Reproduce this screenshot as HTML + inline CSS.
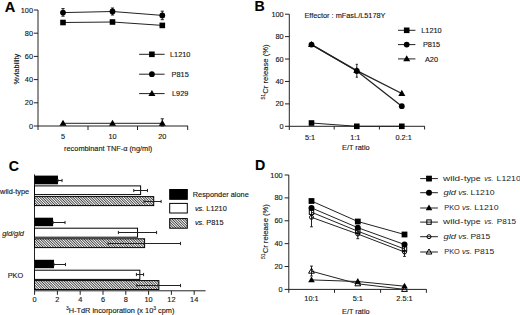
<!DOCTYPE html>
<html><head><meta charset="utf-8"><style>
html,body{margin:0;padding:0;background:#fff;width:520px;height:315px;overflow:hidden}
svg{display:block}
text{font-family:"Liberation Sans",sans-serif;stroke:#000;stroke-width:0.12px}
</style></head><body>
<svg width="520" height="315" viewBox="0 0 520 315">
<defs>
<pattern id="hatch" patternUnits="userSpaceOnUse" width="1.82" height="1.82" patternTransform="rotate(45)">
<rect width="1.82" height="1.82" fill="#fff"/>
<rect width="1.82" height="0.72" fill="#111"/>
</pattern>
</defs>
<rect width="520" height="315" fill="#fff"/>
<text x="4.7" y="12.2" text-anchor="start" font-size="14.6" font-weight="bold" fill="#000" >A</text>
<line x1="38.0" y1="10.0" x2="38.0" y2="130" stroke="#222" stroke-width="1"/>
<line x1="38.0" y1="126.0" x2="188" y2="126.0" stroke="#222" stroke-width="1"/>
<line x1="33.8" y1="126.0" x2="38.0" y2="126.0" stroke="#222" stroke-width="1"/>
<text x="33.0" y="128.6" text-anchor="end" font-size="7.35" fill="#1a1a1a" >0</text>
<line x1="33.8" y1="102.8" x2="38.0" y2="102.8" stroke="#222" stroke-width="1"/>
<text x="33.0" y="105.39999999999999" text-anchor="end" font-size="7.35" fill="#1a1a1a" >20</text>
<line x1="33.8" y1="79.6" x2="38.0" y2="79.6" stroke="#222" stroke-width="1"/>
<text x="33.0" y="82.19999999999999" text-anchor="end" font-size="7.35" fill="#1a1a1a" >40</text>
<line x1="33.8" y1="56.400000000000006" x2="38.0" y2="56.400000000000006" stroke="#222" stroke-width="1"/>
<text x="33.0" y="59.00000000000001" text-anchor="end" font-size="7.35" fill="#1a1a1a" >60</text>
<line x1="33.8" y1="33.2" x2="38.0" y2="33.2" stroke="#222" stroke-width="1"/>
<text x="33.0" y="35.800000000000004" text-anchor="end" font-size="7.35" fill="#1a1a1a" >80</text>
<line x1="33.8" y1="10.000000000000014" x2="38.0" y2="10.000000000000014" stroke="#222" stroke-width="1"/>
<text x="33.0" y="12.600000000000014" text-anchor="end" font-size="7.35" fill="#1a1a1a" >100</text>
<line x1="88" y1="126.0" x2="88" y2="130" stroke="#222" stroke-width="1"/>
<line x1="137.5" y1="126.0" x2="137.5" y2="130" stroke="#222" stroke-width="1"/>
<line x1="187.7" y1="126.0" x2="187.7" y2="130" stroke="#222" stroke-width="1"/>
<text x="63" y="138.6" text-anchor="middle" font-size="7.35" fill="#1a1a1a" >5</text>
<text x="112.5" y="138.6" text-anchor="middle" font-size="7.35" fill="#1a1a1a" >10</text>
<text x="162.3" y="138.6" text-anchor="middle" font-size="7.35" fill="#1a1a1a" >20</text>
<text x="108.2" y="150.6" text-anchor="middle" font-size="7.35" fill="#1a1a1a" >recombinant TNF-&#945; (ng/ml)</text>
<text x="0" y="0" text-anchor="middle" font-size="7.35" fill="#1a1a1a" transform="translate(18.8,69.2) rotate(-90)">%viability</text>
<polyline points="63,22.5 112.5,22.0 162.3,25.4" fill="none" stroke="#222" stroke-width="1"/>
<polyline points="63,12.6 112.5,11.5 162.3,15.4" fill="none" stroke="#222" stroke-width="1"/>
<polyline points="63,123.3 112.5,123.3 162.3,123.3" fill="none" stroke="#222" stroke-width="1"/>
<line x1="63" y1="8.6" x2="63" y2="16.2" stroke="#222" stroke-width="1"/>
<line x1="61.4" y1="8.6" x2="64.6" y2="8.6" stroke="#222" stroke-width="1"/>
<line x1="61.4" y1="16.2" x2="64.6" y2="16.2" stroke="#222" stroke-width="1"/>
<line x1="112.5" y1="8.0" x2="112.5" y2="15.0" stroke="#222" stroke-width="1"/>
<line x1="110.9" y1="8.0" x2="114.1" y2="8.0" stroke="#222" stroke-width="1"/>
<line x1="110.9" y1="15.0" x2="114.1" y2="15.0" stroke="#222" stroke-width="1"/>
<line x1="162.3" y1="11.2" x2="162.3" y2="19.7" stroke="#222" stroke-width="1"/>
<line x1="160.70000000000002" y1="11.2" x2="163.9" y2="11.2" stroke="#222" stroke-width="1"/>
<line x1="160.70000000000002" y1="19.7" x2="163.9" y2="19.7" stroke="#222" stroke-width="1"/>
<line x1="162.3" y1="118.8" x2="162.3" y2="126" stroke="#222" stroke-width="1"/>
<line x1="160.70000000000002" y1="118.8" x2="163.9" y2="118.8" stroke="#222" stroke-width="1"/>
<line x1="160.70000000000002" y1="126" x2="163.9" y2="126" stroke="#222" stroke-width="1"/>
<rect x="60.2" y="19.7" width="5.6" height="5.6" fill="#000"/>
<rect x="109.7" y="19.2" width="5.6" height="5.6" fill="#000"/>
<rect x="159.5" y="22.599999999999998" width="5.6" height="5.6" fill="#000"/>
<circle cx="63" cy="12.6" r="2.9" fill="#000"/>
<circle cx="112.5" cy="11.5" r="2.9" fill="#000"/>
<circle cx="162.3" cy="15.4" r="2.9" fill="#000"/>
<polygon points="63,119.646 66.5,125.73599999999999 59.5,125.73599999999999" fill="#000"/>
<polygon points="112.5,119.646 116.0,125.73599999999999 109.0,125.73599999999999" fill="#000"/>
<polygon points="162.3,119.646 165.8,125.73599999999999 158.8,125.73599999999999" fill="#000"/>
<line x1="139.1" y1="54.3" x2="164.6" y2="54.3" stroke="#222" stroke-width="1"/>
<rect x="149.1" y="51.5" width="5.6" height="5.6" fill="#000"/>
<text x="180.2" y="56.9" text-anchor="middle" font-size="7.35" fill="#1a1a1a" >L1210</text>
<line x1="139.1" y1="74.2" x2="164.6" y2="74.2" stroke="#222" stroke-width="1"/>
<circle cx="151.9" cy="74.2" r="2.9" fill="#000"/>
<text x="180.2" y="76.8" text-anchor="middle" font-size="7.35" fill="#1a1a1a" >P815</text>
<line x1="139.1" y1="93.6" x2="164.6" y2="93.6" stroke="#222" stroke-width="1"/>
<polygon points="151.9,89.946 155.4,96.036 148.4,96.036" fill="#000"/>
<text x="180.2" y="96.19999999999999" text-anchor="middle" font-size="7.35" fill="#1a1a1a" >L929</text>
<text x="254.6" y="10.7" text-anchor="start" font-size="14.2" font-weight="bold" fill="#000" >B</text>
<line x1="289.3" y1="14.2" x2="289.3" y2="130" stroke="#222" stroke-width="1"/>
<line x1="289.3" y1="126.3" x2="424.8" y2="126.3" stroke="#222" stroke-width="1"/>
<line x1="285.0" y1="126.3" x2="289.3" y2="126.3" stroke="#222" stroke-width="1"/>
<text x="283.7" y="128.9" text-anchor="end" font-size="7.35" fill="#1a1a1a" >0</text>
<line x1="285.0" y1="103.88" x2="289.3" y2="103.88" stroke="#222" stroke-width="1"/>
<text x="283.7" y="106.47999999999999" text-anchor="end" font-size="7.35" fill="#1a1a1a" >20</text>
<line x1="285.0" y1="81.46" x2="289.3" y2="81.46" stroke="#222" stroke-width="1"/>
<text x="283.7" y="84.05999999999999" text-anchor="end" font-size="7.35" fill="#1a1a1a" >40</text>
<line x1="285.0" y1="59.03999999999999" x2="289.3" y2="59.03999999999999" stroke="#222" stroke-width="1"/>
<text x="283.7" y="61.63999999999999" text-anchor="end" font-size="7.35" fill="#1a1a1a" >60</text>
<line x1="285.0" y1="36.61999999999999" x2="289.3" y2="36.61999999999999" stroke="#222" stroke-width="1"/>
<text x="283.7" y="39.21999999999999" text-anchor="end" font-size="7.35" fill="#1a1a1a" >80</text>
<line x1="285.0" y1="14.200000000000003" x2="289.3" y2="14.200000000000003" stroke="#222" stroke-width="1"/>
<text x="283.7" y="16.800000000000004" text-anchor="end" font-size="7.35" fill="#1a1a1a" >100</text>
<line x1="334.2" y1="126.3" x2="334.2" y2="129.5" stroke="#222" stroke-width="1"/>
<line x1="379.4" y1="126.3" x2="379.4" y2="129.5" stroke="#222" stroke-width="1"/>
<line x1="424.6" y1="126.3" x2="424.6" y2="129.5" stroke="#222" stroke-width="1"/>
<text x="310.0" y="140.4" text-anchor="middle" font-size="7.35" fill="#1a1a1a" >5:1</text>
<text x="355.3" y="140.4" text-anchor="middle" font-size="7.35" fill="#1a1a1a" >1:1</text>
<text x="403.6" y="140.4" text-anchor="middle" font-size="7.35" fill="#1a1a1a" >0.2:1</text>
<text x="355.8" y="149.7" text-anchor="middle" font-size="7.35" fill="#1a1a1a" >E/T ratio</text>
<text x="304.4" y="18.0" text-anchor="start" font-size="7.35" fill="#1a1a1a" >Effector : mFasL/L5178Y</text>
<text x="0" y="0" text-anchor="middle" font-size="7.65" fill="#1a1a1a" transform="translate(267.8,72.0) rotate(-90)"><tspan font-size="5.2" dy="-2.7">51</tspan><tspan dy="2.7">Cr release (%)</tspan></text>
<polyline points="311.5,123.0 356.8,126.3 401.8,126.3" fill="none" stroke="#222" stroke-width="1"/>
<polyline points="311.5,44.6 356.8,71.0 401.8,106.2" fill="none" stroke="#222" stroke-width="1.3"/>
<polyline points="311.5,44.6 356.8,70.6 401.8,93.5" fill="none" stroke="#222" stroke-width="1.3"/>
<line x1="356.8" y1="64.3" x2="356.8" y2="77.2" stroke="#222" stroke-width="1"/>
<line x1="355.7" y1="64.3" x2="357.90000000000003" y2="64.3" stroke="#222" stroke-width="1"/>
<line x1="355.7" y1="77.2" x2="357.90000000000003" y2="77.2" stroke="#222" stroke-width="1"/>
<rect x="308.7" y="120.2" width="5.6" height="5.6" fill="#000"/>
<rect x="354.0" y="123.5" width="5.6" height="5.6" fill="#000"/>
<rect x="399.0" y="123.5" width="5.6" height="5.6" fill="#000"/>
<circle cx="311.5" cy="44.6" r="2.9" fill="#000"/>
<circle cx="356.8" cy="71.0" r="2.9" fill="#000"/>
<circle cx="401.8" cy="106.2" r="2.9" fill="#000"/>
<polygon points="311.5,40.946 315.0,47.036 308.0,47.036" fill="#000"/>
<polygon points="356.8,66.946 360.3,73.036 353.3,73.036" fill="#000"/>
<polygon points="401.8,89.846 405.3,95.936 398.3,95.936" fill="#000"/>
<line x1="398" y1="30.3" x2="415.4" y2="30.3" stroke="#222" stroke-width="1"/>
<rect x="403.9" y="27.5" width="5.6" height="5.6" fill="#000"/>
<text x="431.5" y="32.9" text-anchor="middle" font-size="7.35" fill="#1a1a1a" >L1210</text>
<line x1="398" y1="44.6" x2="415.4" y2="44.6" stroke="#222" stroke-width="1"/>
<circle cx="406.7" cy="44.6" r="2.9" fill="#000"/>
<text x="431.5" y="47.2" text-anchor="middle" font-size="7.35" fill="#1a1a1a" >P815</text>
<line x1="398" y1="58.9" x2="415.4" y2="58.9" stroke="#222" stroke-width="1"/>
<polygon points="406.7,55.245999999999995 410.2,61.336 403.2,61.336" fill="#000"/>
<text x="431.5" y="61.5" text-anchor="middle" font-size="7.35" fill="#1a1a1a" >A20</text>
<text x="8.8" y="171.3" text-anchor="start" font-size="14.2" font-weight="bold" fill="#000" >C</text>
<line x1="34.5" y1="174.4" x2="34.5" y2="290.8" stroke="#222" stroke-width="1"/>
<line x1="34.5" y1="290.8" x2="205.6" y2="290.8" stroke="#222" stroke-width="1"/>
<line x1="34.6" y1="290.8" x2="34.6" y2="294.8" stroke="#222" stroke-width="1"/>
<text x="34.6" y="301.9" text-anchor="middle" font-size="7.35" fill="#1a1a1a" >0</text>
<line x1="57.400000000000006" y1="290.8" x2="57.400000000000006" y2="294.8" stroke="#222" stroke-width="1"/>
<text x="57.400000000000006" y="301.9" text-anchor="middle" font-size="7.35" fill="#1a1a1a" >2</text>
<line x1="80.2" y1="290.8" x2="80.2" y2="294.8" stroke="#222" stroke-width="1"/>
<text x="80.2" y="301.9" text-anchor="middle" font-size="7.35" fill="#1a1a1a" >4</text>
<line x1="103.0" y1="290.8" x2="103.0" y2="294.8" stroke="#222" stroke-width="1"/>
<text x="103.0" y="301.9" text-anchor="middle" font-size="7.35" fill="#1a1a1a" >6</text>
<line x1="125.80000000000001" y1="290.8" x2="125.80000000000001" y2="294.8" stroke="#222" stroke-width="1"/>
<text x="125.80000000000001" y="301.9" text-anchor="middle" font-size="7.35" fill="#1a1a1a" >8</text>
<line x1="148.6" y1="290.8" x2="148.6" y2="294.8" stroke="#222" stroke-width="1"/>
<text x="148.6" y="301.9" text-anchor="middle" font-size="7.35" fill="#1a1a1a" >10</text>
<line x1="171.4" y1="290.8" x2="171.4" y2="294.8" stroke="#222" stroke-width="1"/>
<text x="171.4" y="301.9" text-anchor="middle" font-size="7.35" fill="#1a1a1a" >12</text>
<line x1="194.2" y1="290.8" x2="194.2" y2="294.8" stroke="#222" stroke-width="1"/>
<text x="194.2" y="301.9" text-anchor="middle" font-size="7.35" fill="#1a1a1a" >14</text>
<text x="120.2" y="312.9" text-anchor="middle" font-size="7.35" fill="#1a1a1a" ><tspan font-size="5" dy="-2.6">3</tspan><tspan dy="2.6">H-TdR incorporation (x 10</tspan><tspan font-size="5" dy="-2.6">3</tspan><tspan dy="2.6"> cpm)</tspan></text>
<rect x="34.5" y="175.6" width="23.47" height="8.700000000000017" fill="#000"/>
<line x1="57.97" y1="180.5" x2="62.074000000000005" y2="180.5" stroke="#222" stroke-width="1"/>
<line x1="57.97" y1="178.9" x2="57.97" y2="182.1" stroke="#222" stroke-width="1"/>
<line x1="62.074000000000005" y1="178.9" x2="62.074000000000005" y2="182.1" stroke="#222" stroke-width="1"/>
<rect x="34.5" y="185.9" width="106.12" height="8.7" fill="#fff" stroke="#000" stroke-width="1"/>
<line x1="133.78" y1="190.5" x2="147.46" y2="190.5" stroke="#222" stroke-width="1"/>
<line x1="133.78" y1="188.9" x2="133.78" y2="192.1" stroke="#222" stroke-width="1"/>
<line x1="147.46" y1="188.9" x2="147.46" y2="192.1" stroke="#222" stroke-width="1"/>
<rect x="34.5" y="196.6" width="119.22999999999999" height="9.0" fill="url(#hatch)" stroke="#000" stroke-width="1"/>
<line x1="144.04" y1="201.5" x2="161.14000000000001" y2="201.5" stroke="#222" stroke-width="1"/>
<line x1="144.04" y1="199.9" x2="144.04" y2="203.1" stroke="#222" stroke-width="1"/>
<line x1="161.14000000000001" y1="199.9" x2="161.14000000000001" y2="203.1" stroke="#222" stroke-width="1"/>
<text x="14.6" y="193.5" text-anchor="middle" font-size="7.35" fill="#1a1a1a" >wild-type</text>
<rect x="34.5" y="217.7" width="18.568000000000005" height="8.5" fill="#000"/>
<line x1="53.068000000000005" y1="222.5" x2="65.038" y2="222.5" stroke="#222" stroke-width="1"/>
<line x1="53.068000000000005" y1="220.9" x2="53.068000000000005" y2="224.1" stroke="#222" stroke-width="1"/>
<line x1="65.038" y1="220.9" x2="65.038" y2="224.1" stroke="#222" stroke-width="1"/>
<rect x="34.5" y="228.2" width="103.042" height="9.0" fill="#fff" stroke="#000" stroke-width="1"/>
<line x1="118.38999999999999" y1="232.5" x2="156.57999999999998" y2="232.5" stroke="#222" stroke-width="1"/>
<line x1="118.38999999999999" y1="230.9" x2="118.38999999999999" y2="234.1" stroke="#222" stroke-width="1"/>
<line x1="156.57999999999998" y1="230.9" x2="156.57999999999998" y2="234.1" stroke="#222" stroke-width="1"/>
<rect x="34.5" y="238.8" width="110.11000000000001" height="8.8" fill="url(#hatch)" stroke="#000" stroke-width="1"/>
<line x1="108.13" y1="243.5" x2="180.52" y2="243.5" stroke="#222" stroke-width="1"/>
<line x1="108.13" y1="241.9" x2="108.13" y2="245.1" stroke="#222" stroke-width="1"/>
<line x1="180.52" y1="241.9" x2="180.52" y2="245.1" stroke="#222" stroke-width="1"/>
<text x="13.1" y="236.1" text-anchor="middle" font-size="7.35" font-style="italic" fill="#1a1a1a" >gld/gld</text>
<rect x="34.5" y="259.8" width="19.480000000000004" height="8.399999999999977" fill="#000"/>
<line x1="53.980000000000004" y1="264.5" x2="65.494" y2="264.5" stroke="#222" stroke-width="1"/>
<line x1="53.980000000000004" y1="262.9" x2="53.980000000000004" y2="266.1" stroke="#222" stroke-width="1"/>
<line x1="65.494" y1="262.9" x2="65.494" y2="266.1" stroke="#222" stroke-width="1"/>
<rect x="34.5" y="270.2" width="105.322" height="9.2" fill="#fff" stroke="#000" stroke-width="1"/>
<line x1="136.40200000000002" y1="274.5" x2="143.584" y2="274.5" stroke="#222" stroke-width="1"/>
<line x1="136.40200000000002" y1="272.9" x2="136.40200000000002" y2="276.1" stroke="#222" stroke-width="1"/>
<line x1="143.584" y1="272.9" x2="143.584" y2="276.1" stroke="#222" stroke-width="1"/>
<rect x="34.5" y="280.6" width="124.36000000000001" height="8.9" fill="url(#hatch)" stroke="#000" stroke-width="1"/>
<line x1="136.858" y1="285.5" x2="180.52" y2="285.5" stroke="#222" stroke-width="1"/>
<line x1="136.858" y1="283.9" x2="136.858" y2="287.1" stroke="#222" stroke-width="1"/>
<line x1="180.52" y1="283.9" x2="180.52" y2="287.1" stroke="#222" stroke-width="1"/>
<text x="15.4" y="278.0" text-anchor="middle" font-size="7.35" fill="#1a1a1a" >PKO</text>
<rect x="169.7" y="189.5" width="17.6" height="9.8" fill="#000" stroke="#000" stroke-width="1"/>
<rect x="169.7" y="203.4" width="17.6" height="9.6" fill="#fff" stroke="#000" stroke-width="1"/>
<rect x="169.7" y="218.6" width="17.6" height="9.6" fill="url(#hatch)" stroke="#000" stroke-width="1"/>
<text x="192.8" y="196.8" text-anchor="start" font-size="7.35" fill="#1a1a1a" >Responder alone</text>
<text x="194.9" y="211.2" text-anchor="start" font-size="7.35" fill="#1a1a1a" ><tspan font-style="italic">vs.</tspan> L1210</text>
<text x="194.9" y="224.9" text-anchor="start" font-size="7.35" fill="#1a1a1a" ><tspan font-style="italic">vs.</tspan> P815</text>
<text x="255.1" y="169.9" text-anchor="start" font-size="14.2" font-weight="bold" fill="#000" >D</text>
<line x1="288.8" y1="175.0" x2="288.8" y2="292.8" stroke="#222" stroke-width="1"/>
<line x1="288.8" y1="289.4" x2="426.6" y2="289.4" stroke="#222" stroke-width="1"/>
<line x1="284.6" y1="289.4" x2="288.8" y2="289.4" stroke="#222" stroke-width="1"/>
<text x="282.6" y="292.0" text-anchor="end" font-size="7.35" fill="#1a1a1a" >0</text>
<line x1="284.6" y1="266.52" x2="288.8" y2="266.52" stroke="#222" stroke-width="1"/>
<text x="282.6" y="269.12" text-anchor="end" font-size="7.35" fill="#1a1a1a" >20</text>
<line x1="284.6" y1="243.64" x2="288.8" y2="243.64" stroke="#222" stroke-width="1"/>
<text x="282.6" y="246.23999999999998" text-anchor="end" font-size="7.35" fill="#1a1a1a" >40</text>
<line x1="284.6" y1="220.76" x2="288.8" y2="220.76" stroke="#222" stroke-width="1"/>
<text x="282.6" y="223.35999999999999" text-anchor="end" font-size="7.35" fill="#1a1a1a" >60</text>
<line x1="284.6" y1="197.88" x2="288.8" y2="197.88" stroke="#222" stroke-width="1"/>
<text x="282.6" y="200.48" text-anchor="end" font-size="7.35" fill="#1a1a1a" >80</text>
<line x1="284.6" y1="175.0" x2="288.8" y2="175.0" stroke="#222" stroke-width="1"/>
<text x="282.6" y="177.6" text-anchor="end" font-size="7.35" fill="#1a1a1a" >100</text>
<line x1="334.5" y1="289.4" x2="334.5" y2="292.8" stroke="#222" stroke-width="1"/>
<line x1="380.6" y1="289.4" x2="380.6" y2="292.8" stroke="#222" stroke-width="1"/>
<line x1="426.4" y1="289.4" x2="426.4" y2="292.8" stroke="#222" stroke-width="1"/>
<text x="311.5" y="301.1" text-anchor="middle" font-size="7.35" fill="#1a1a1a" >10:1</text>
<text x="357.8" y="301.1" text-anchor="middle" font-size="7.35" fill="#1a1a1a" >5:1</text>
<text x="404.5" y="301.1" text-anchor="middle" font-size="7.35" fill="#1a1a1a" >2.5:1</text>
<text x="355.8" y="313.9" text-anchor="middle" font-size="7.35" fill="#1a1a1a" >E/T ratio</text>
<text x="0" y="0" text-anchor="middle" font-size="7.65" fill="#1a1a1a" transform="translate(267.6,231.6) rotate(-90)"><tspan font-size="5.2" dy="-2.7">51</tspan><tspan dy="2.7">Cr release (%)</tspan></text>
<polyline points="311.5,201.0 357.8,221.5 404.5,234.5" fill="none" stroke="#222" stroke-width="1"/>
<polyline points="311.5,207.9 357.8,227.7 404.5,244.5" fill="none" stroke="#222" stroke-width="1"/>
<polyline points="311.5,279.9 357.8,281.5 404.5,286.2" fill="none" stroke="#222" stroke-width="1"/>
<polyline points="311.5,212.2 357.8,231.2 404.5,249.0" fill="none" stroke="#222" stroke-width="1"/>
<polyline points="311.5,217.3 357.8,234.0 404.5,252.0" fill="none" stroke="#222" stroke-width="1"/>
<polyline points="311.5,271.2 357.8,283.8 404.5,289.4" fill="none" stroke="#222" stroke-width="1"/>
<line x1="311.5" y1="210.0" x2="311.5" y2="226.8" stroke="#222" stroke-width="1"/>
<line x1="310.1" y1="210.0" x2="312.9" y2="210.0" stroke="#222" stroke-width="1"/>
<line x1="310.1" y1="226.8" x2="312.9" y2="226.8" stroke="#222" stroke-width="1"/>
<line x1="357.8" y1="229.0" x2="357.8" y2="238.7" stroke="#222" stroke-width="1"/>
<line x1="356.40000000000003" y1="229.0" x2="359.2" y2="229.0" stroke="#222" stroke-width="1"/>
<line x1="356.40000000000003" y1="238.7" x2="359.2" y2="238.7" stroke="#222" stroke-width="1"/>
<line x1="404.5" y1="246.0" x2="404.5" y2="256.4" stroke="#222" stroke-width="1"/>
<line x1="403.1" y1="246.0" x2="405.9" y2="246.0" stroke="#222" stroke-width="1"/>
<line x1="403.1" y1="256.4" x2="405.9" y2="256.4" stroke="#222" stroke-width="1"/>
<line x1="311.5" y1="266.1" x2="311.5" y2="276.0" stroke="#222" stroke-width="1"/>
<line x1="310.1" y1="266.1" x2="312.9" y2="266.1" stroke="#222" stroke-width="1"/>
<line x1="310.1" y1="276.0" x2="312.9" y2="276.0" stroke="#222" stroke-width="1"/>
<rect x="308.6" y="198.1" width="5.8" height="5.8" fill="#000"/>
<rect x="354.90000000000003" y="218.6" width="5.8" height="5.8" fill="#000"/>
<rect x="401.6" y="231.6" width="5.8" height="5.8" fill="#000"/>
<circle cx="311.5" cy="207.9" r="3.0" fill="#000"/>
<circle cx="357.8" cy="227.7" r="3.0" fill="#000"/>
<circle cx="404.5" cy="244.5" r="3.0" fill="#000"/>
<polygon points="311.5,276.4548 314.8,282.1968 308.2,282.1968" fill="#000"/>
<polygon points="357.8,278.0548 361.1,283.7968 354.5,283.7968" fill="#000"/>
<polygon points="404.5,282.7548 407.8,288.4968 401.2,288.4968" fill="#000"/>
<rect x="309.3" y="210.0" width="4.4" height="4.4" fill="none" stroke="#000" stroke-width="1"/>
<rect x="355.6" y="229.0" width="4.4" height="4.4" fill="none" stroke="#000" stroke-width="1"/>
<rect x="402.3" y="246.8" width="4.4" height="4.4" fill="none" stroke="#000" stroke-width="1"/>
<circle cx="311.5" cy="217.3" r="2.0" fill="none" stroke="#000" stroke-width="1"/>
<circle cx="357.8" cy="234.0" r="2.0" fill="none" stroke="#000" stroke-width="1"/>
<circle cx="404.5" cy="252.0" r="2.0" fill="none" stroke="#000" stroke-width="1"/>
<polygon points="311.5,268.1724 314.4,273.2184 308.6,273.2184" fill="none" stroke="#000" stroke-width="1" stroke-linejoin="miter"/>
<polygon points="357.8,280.7724 360.7,285.8184 354.90000000000003,285.8184" fill="none" stroke="#000" stroke-width="1" stroke-linejoin="miter"/>
<polygon points="404.5,286.37239999999997 407.4,291.41839999999996 401.6,291.41839999999996" fill="none" stroke="#000" stroke-width="1" stroke-linejoin="miter"/>
<line x1="420.2" y1="178.6" x2="437.9" y2="178.6" stroke="#222" stroke-width="1"/>
<rect x="426.1" y="175.7" width="5.8" height="5.8" fill="#000"/>
<text x="443.04999999999995" y="180.9" font-size="7.6" textLength="20.400000000000045" lengthAdjust="spacingAndGlyphs" fill="#222" style="stroke-width:0px">wild-</text>
<text x="463.95" y="180.9" font-size="7.6" textLength="16.7" lengthAdjust="spacingAndGlyphs" fill="#222" style="stroke-width:0px">type</text>
<text x="484.25" y="180.9" font-size="7.6" textLength="9.2" lengthAdjust="spacingAndGlyphs" font-style="italic" fill="#222" style="stroke-width:0px">vs.</text>
<text x="496.54999999999995" y="180.9" font-size="7.6" textLength="24.2" lengthAdjust="spacingAndGlyphs" fill="#222" style="stroke-width:0px">L1210</text>
<line x1="420.2" y1="192.7" x2="437.9" y2="192.7" stroke="#222" stroke-width="1"/>
<circle cx="429.0" cy="192.7" r="3.0" fill="#000"/>
<text x="443.45" y="195.0" font-size="7.6" textLength="12.50000000000001" lengthAdjust="spacingAndGlyphs" font-style="italic" fill="#222" style="stroke-width:0px">gld</text>
<text x="458.15" y="195.0" font-size="7.6" textLength="10.7" lengthAdjust="spacingAndGlyphs" font-style="italic" fill="#222" style="stroke-width:0px">vs.</text>
<text x="470.45" y="195.0" font-size="7.6" textLength="24.099999999999977" lengthAdjust="spacingAndGlyphs" fill="#222" style="stroke-width:0px">L1210</text>
<line x1="420.2" y1="208.0" x2="437.9" y2="208.0" stroke="#222" stroke-width="1"/>
<polygon points="429.0,204.5548 432.3,210.2968 425.7,210.2968" fill="#000"/>
<text x="444.25" y="210.3" font-size="7.6" textLength="15.499999999999954" lengthAdjust="spacingAndGlyphs" fill="#222" style="stroke-width:0px">PKO</text>
<text x="461.95" y="210.3" font-size="7.6" textLength="10.00000000000001" lengthAdjust="spacingAndGlyphs" font-style="italic" fill="#222" style="stroke-width:0px">vs.</text>
<text x="474.25" y="210.3" font-size="7.6" textLength="24.299999999999965" lengthAdjust="spacingAndGlyphs" fill="#222" style="stroke-width:0px">L1210</text>
<line x1="420.2" y1="222.1" x2="437.9" y2="222.1" stroke="#222" stroke-width="1"/>
<rect x="426.8" y="219.9" width="4.4" height="4.4" fill="none" stroke="#000" stroke-width="1"/>
<text x="443.04999999999995" y="224.4" font-size="7.6" textLength="20.400000000000045" lengthAdjust="spacingAndGlyphs" fill="#222" style="stroke-width:0px">wild-</text>
<text x="463.95" y="224.4" font-size="7.6" textLength="16.7" lengthAdjust="spacingAndGlyphs" fill="#222" style="stroke-width:0px">type</text>
<text x="484.25" y="224.4" font-size="7.6" textLength="9.2" lengthAdjust="spacingAndGlyphs" font-style="italic" fill="#222" style="stroke-width:0px">vs.</text>
<text x="496.84999999999997" y="224.4" font-size="7.6" textLength="19.200000000000056" lengthAdjust="spacingAndGlyphs" fill="#222" style="stroke-width:0px">P815</text>
<line x1="420.2" y1="236.7" x2="437.9" y2="236.7" stroke="#222" stroke-width="1"/>
<circle cx="429.0" cy="236.7" r="2.0" fill="none" stroke="#000" stroke-width="1"/>
<text x="443.45" y="239.0" font-size="7.6" textLength="12.50000000000001" lengthAdjust="spacingAndGlyphs" font-style="italic" fill="#222" style="stroke-width:0px">gld</text>
<text x="458.15" y="239.0" font-size="7.6" textLength="10.7" lengthAdjust="spacingAndGlyphs" font-style="italic" fill="#222" style="stroke-width:0px">vs.</text>
<text x="470.45" y="239.0" font-size="7.6" textLength="19.899999999999988" lengthAdjust="spacingAndGlyphs" fill="#222" style="stroke-width:0px">P815</text>
<line x1="420.2" y1="252.0" x2="437.9" y2="252.0" stroke="#222" stroke-width="1"/>
<polygon points="429.0,248.9724 431.9,254.0184 426.1,254.0184" fill="none" stroke="#000" stroke-width="1" stroke-linejoin="miter"/>
<text x="444.25" y="254.3" font-size="7.6" textLength="15.499999999999954" lengthAdjust="spacingAndGlyphs" fill="#222" style="stroke-width:0px">PKO</text>
<text x="461.95" y="254.3" font-size="7.6" textLength="10.00000000000001" lengthAdjust="spacingAndGlyphs" font-style="italic" fill="#222" style="stroke-width:0px">vs.</text>
<text x="474.25" y="254.3" font-size="7.6" textLength="19.899999999999988" lengthAdjust="spacingAndGlyphs" fill="#222" style="stroke-width:0px">P815</text>
</svg>
</body></html>
